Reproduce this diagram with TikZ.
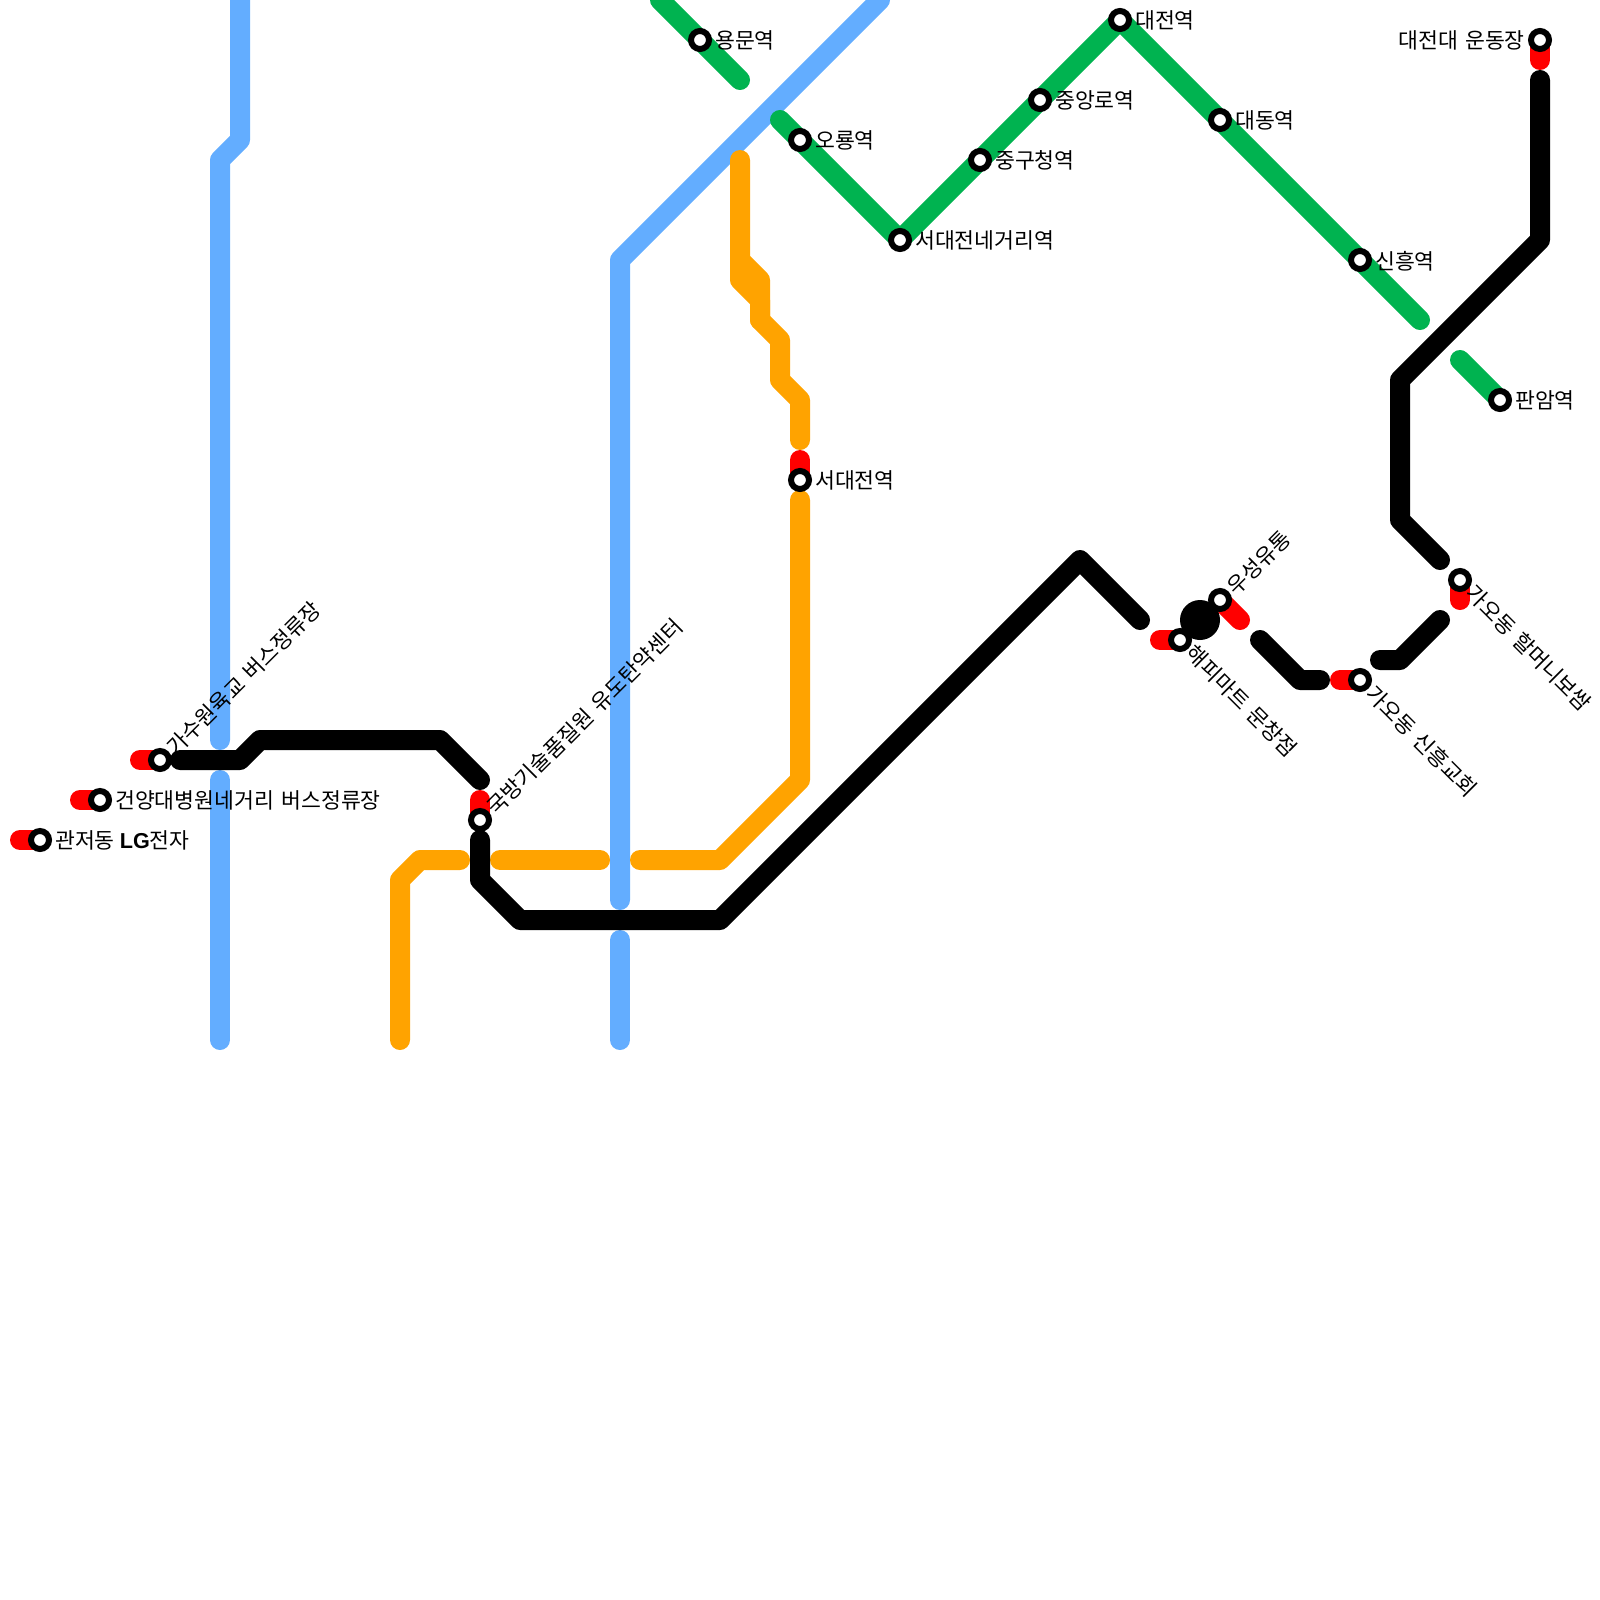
\documentclass[tikz,border=0pt]{standalone}
\usepackage{fontspec}
\setmainfont[WordSpace=1.5]{Noto Sans CJK KR}
\newfontfamily\latinbold{Liberation Sans Bold}
\tikzset{
  base/.style={line width=20pt,line cap=round,line join=round},
  blueline/.style={base,draw=lblue},
  greenline/.style={base,draw=lgreen},
  orangeline/.style={base,draw=lorange},
  blackline/.style={base,draw=black},
  redline/.style={base,draw=lred},
  stn/.style={circle,draw=black,fill=white,line width=6pt,minimum size=18pt,inner sep=0pt},
  lbl/.style={font=\fontsize{21.6}{25}\selectfont,inner sep=0pt,text=black},
  lblE/.style={lbl,anchor=west,xshift=15pt,yshift=-0.8pt},
  lblW/.style={lbl,anchor=east,xshift=-15pt,yshift=-0.8pt},
  lblNE/.style={lbl,anchor=west,rotate=45,xshift=14pt,yshift=-1.5pt},
  lblSE/.style={lbl,anchor=west,rotate=-45,xshift=13.5pt,yshift=0.7pt},
}
\definecolor{lblue}{HTML}{63ADFF}
\definecolor{lgreen}{HTML}{00B350}
\definecolor{lorange}{HTML}{FFA300}
\definecolor{lred}{HTML}{FF0000}
\begin{document}
\begin{tikzpicture}[x=1pt,y=-1pt]
\useasboundingbox (0,0) rectangle (1600,1600);
\clip (0,0) rectangle (1600,1600);
% stations
\foreach \n/\x/\y in {yongmun/700/40,oryong/800/140,sdjn/900/240,junggu/980/160,jungang/1040/100,daejeon/1120/20,daedong/1220/120,sinheung/1360/260,panam/1500/400,dju/1540/40,sdj/800/480,gasuwon/160/760,geonyang/100/800,gwanjeo/40/840,gukbang/480/820,happy/1180/640,useong/1220/600,gaoshin/1360/680,gaohal/1460/580}
  {\coordinate (c\n) at (\x,\y);}
% waypoints
\foreach \n/\x/\y in {b1/240/0,b2/240/140,b3/220/160,b4/220/740,b5/220/780,b6/220/1040,b7/880/0,b8/620/260,b9/620/900,b10/620/940,b11/620/1040,
 g1/660/0,g2/740/80,g3/780/120,g4/1420/320,g5/1460/360,
 o1/740/160,o2/740/260,o3/760/280,o4/760/320,o5/780/340,o6/780/380,o7/800/400,o8/800/440,o9/740/280,o10/760/300,
 o11/800/500,o12/800/780,o13/720/860,o14/640/860,o15/600/860,o16/500/860,o17/460/860,o18/420/860,o19/400/880,o20/400/1040,
 k1/180/760,k2/240/760,k3/260/740,k4/440/740,k5/480/780,k6/480/840,k7/480/880,k8/520/920,k9/720/920,k10/1080/560,k11/1140/620,
 k12/1260/640,k13/1300/680,k14/1320/680,k15/1380/660,k16/1400/660,k17/1440/620,k18/1440/560,k19/1400/520,k20/1400/380,k21/1540/240,k22/1540/80,
 r1/20/840,r2/80/800,r3/140/760,r4/480/800,r5/800/460,r6/1540/60,r7/1240/620,r8/1160/640,r9/1340/680,r10/1460/600,dot/1200/620}
  {\coordinate (\n) at (\x,\y);}
% blue
\draw[blueline] (b1)--(b2)--(b3)--(b4);
\draw[blueline] (b5)--(b6);
\draw[blueline] (b7)--(b8)--(b9);
\draw[blueline] (b10)--(b11);
% green
\draw[greenline] (g1)--(cyongmun)--(g2);
\draw[greenline] (g3)--(coryong)--(csdjn)--(cjunggu)--(cjungang)--(cdaejeon)--(cdaedong)--(csinheung)--(g4);
\draw[greenline] (g5)--(cpanam);
% orange
\draw[orangeline] (o1)--(o2)--(o3)--(o4)--(o5)--(o6)--(o7)--(o8);
\draw[orangeline] (o2)--(o9)--(o10)--(o4);
\draw[orangeline] (o11)--(o12)--(o13)--(o14);
\draw[orangeline] (o15)--(o16);
\draw[orangeline] (o17)--(o18)--(o19)--(o20);
% red stubs
\draw[redline] (r1)--(cgwanjeo);
\draw[redline] (r2)--(cgeonyang);
\draw[redline] (r3)--(cgasuwon);
\draw[redline] (r4)--(cgukbang);
\draw[redline] (r5)--(csdj);
\draw[redline] (r6)--(cdju);
\draw[redline] (r7)--(cuseong);
\draw[redline] (r8)--(chappy);
\draw[redline] (r9)--(cgaoshin);
\draw[redline] (r10)--(cgaohal);
% black
\draw[blackline] (k1)--(k2)--(k3)--(k4)--(k5);
\draw[blackline] (k6)--(k7)--(k8)--(k9)--(k10)--(k11);
\draw[blackline] (k12)--(k13)--(k14);
\draw[blackline] (k15)--(k16)--(k17);
\draw[blackline] (k18)--(k19)--(k20)--(k21)--(k22);
\fill[black] (dot) circle[radius=20pt];
% station markers
\foreach \n in {yongmun,oryong,sdjn,junggu,jungang,daejeon,daedong,sinheung,panam,dju,sdj,gasuwon,geonyang,gwanjeo,gukbang,happy,useong,gaoshin,gaohal}
  {\node[stn] (\n) at (c\n) {};}
% labels
\node[lblE] (lyongmun) at (cyongmun) {용문역};
\node[lblE] (loryong) at (coryong) {오룡역};
\node[lblE] (lsdjn) at (csdjn) {서대전네거리역};
\node[lblE] (ljunggu) at (cjunggu) {중구청역};
\node[lblE] (ljungang) at (cjungang) {중앙로역};
\node[lblE] (ldaejeon) at (cdaejeon) {대전역};
\node[lblE] (ldaedong) at (cdaedong) {대동역};
\node[lblE] (lsinheung) at (csinheung) {신흥역};
\node[lblE] (lpanam) at (cpanam) {판암역};
\node[lblW] (ldju) at (cdju) {대전대 운동장};
\node[lblE] (lsdj) at (csdj) {서대전역};
\node[lblE] (lgeonyang) at (cgeonyang) {건양대병원네거리 버스정류장};
\node[lblE] (lgwanjeo) at (cgwanjeo) {관저동\hspace{5pt}{\latinbold LG}전자};
\node[lblNE] (lgasuwon) at (cgasuwon) {가수원육교 버스정류장};
\node[lblNE] (lgukbang) at (cgukbang) {국방기술품질원 유도탄약센터};
\node[lblNE] (luseong) at (cuseong) {우성유통};
\node[lblSE] (lhappy) at (chappy) {해피마트 문창점};
\node[lblSE] (lgaoshin) at (cgaoshin) {가오동 신흥교회};
\node[lblSE] (lgaohal) at (cgaohal) {가오동 할머니보쌈};
\end{tikzpicture}
\end{document}
